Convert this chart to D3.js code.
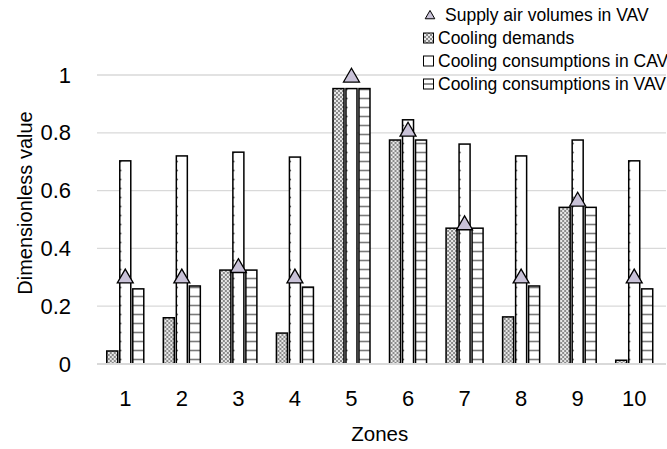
<!DOCTYPE html>
<html>
<head>
<meta charset="utf-8">
<script src="https://cdn.jsdelivr.net/npm/d3@7"></script>
<style>
  html, body { margin: 0; padding: 0; background: #fff; }
  svg { display: block; font-family: "Liberation Sans", Arial, sans-serif; }
</style>
</head>
<body>
<svg id="chart" width="667" height="449"></svg>
<script>
// Zone categories and dimensionless series values
const zones = ["1", "2", "3", "4", "5", "6", "7", "8", "9", "10"];
const coolingDemands = [0.045, 0.16, 0.325, 0.107, 0.953, 0.775, 0.47, 0.163, 0.542, 0.013];
const coolingCAV     = [0.703, 0.72, 0.733, 0.716, 0.953, 0.845, 0.761, 0.72, 0.775, 0.703];
const coolingVAV     = [0.26, 0.27, 0.325, 0.266, 0.953, 0.775, 0.47, 0.27, 0.542, 0.26];
const supplyAirVAV   = [0.30, 0.30, 0.336, 0.30, 0.995, 0.808, 0.484, 0.30, 0.566, 0.30];
const yTicks = [0, 0.2, 0.4, 0.6, 0.8, 1];
const seriesNames = ["Cooling demands", "Cooling consumptions in CAV", "Cooling consumptions in VAV"];
const legendLabels = ["Supply air volumes in VAV", "Cooling demands", "Cooling consumptions in CAV", "Cooling consumptions in VAV"];

const svg = d3.select("#chart");
const plotLeft = 97, plotRight = 662.5, plotTop = 75, plotBottom = 364;

const x0 = d3.scaleBand().domain(zones).range([plotLeft, plotRight])
  .paddingInner(0.31).paddingOuter(0.155);
const x1 = d3.scaleBand().domain(seriesNames).range([0, x0.bandwidth()]);
const y = d3.scaleLinear().domain([0, 1]).range([plotBottom, plotTop]);

// Fill patterns
const defs = svg.append("defs");
const capLeft = x0(zones[0]) + x1(seriesNames[1]);

const pDem = defs.append("pattern").attr("id", "pDem")
  .attr("patternUnits", "userSpaceOnUse").attr("width", 4).attr("height", 4);
pDem.append("rect").attr("width", 4).attr("height", 4).attr("fill", "#e8e8e8");
pDem.append("rect").attr("width", 2).attr("height", 2).attr("fill", "#8a8a8a");
pDem.append("rect").attr("x", 2).attr("y", 2).attr("width", 2).attr("height", 2).attr("fill", "#8a8a8a");

const pCav = defs.append("pattern").attr("id", "pCav")
  .attr("patternUnits", "userSpaceOnUse").attr("width", x0.step()).attr("height", 9)
  .attr("patternTransform", `translate(${capLeft},${plotBottom})`);
pCav.append("rect").attr("width", x0.step()).attr("height", 9).attr("fill", "#fff");
pCav.append("line").attr("x1", 5).attr("x2", 10).attr("y1", 4.5).attr("y2", 4.5)
  .attr("stroke", "#5e5e5e").attr("stroke-width", 1.7);

const pVav = defs.append("pattern").attr("id", "pVav")
  .attr("patternUnits", "userSpaceOnUse").attr("width", 8).attr("height", 9)
  .attr("patternTransform", `translate(0,${plotBottom})`);
pVav.append("rect").attr("width", 8).attr("height", 9).attr("fill", "#fff");
pVav.append("line").attr("x1", 0).attr("x2", 8).attr("y1", 4.5).attr("y2", 4.5)
  .attr("stroke", "#7a7a7a").attr("stroke-width", 1.6);

const fills = { "Cooling demands": "url(#pDem)", "Cooling consumptions in CAV": "url(#pCav)", "Cooling consumptions in VAV": "url(#pVav)" };

// Gridlines
svg.append("g").selectAll("line").data(yTicks.filter(d => d > 0)).join("line")
  .attr("x1", plotLeft).attr("x2", 666)
  .attr("y1", d => y(d)).attr("y2", d => y(d))
  .attr("stroke", "#d9d9d9").attr("stroke-width", 1.3);

// Y axis labels
const yAxis = d3.axisLeft(y).tickValues(yTicks).tickFormat(d3.format("~g")).tickSize(0).tickPadding(0);
const yg = svg.append("g").attr("transform", `translate(71,0)`).call(yAxis);
yg.select(".domain").remove();
yg.selectAll("text").attr("font-size", 22).attr("fill", "#000")
  .attr("font-family", "Liberation Sans, Arial, sans-serif");

// Bars
const rows = zones.map((z, i) => ({
  zone: z,
  values: [coolingDemands[i], coolingCAV[i], coolingVAV[i]]
}));
const groups = svg.append("g").selectAll("g").data(rows).join("g")
  .attr("transform", d => `translate(${x0(d.zone)},0)`);
groups.selectAll("rect")
  .data(d => seriesNames.map((s, k) => ({ s, v: d.values[k] })))
  .join("rect")
  .attr("x", d => x1(d.s) + 1)
  .attr("width", x1.bandwidth() - 2)
  .attr("y", d => y(d.v))
  .attr("height", d => y(0) - y(d.v))
  .attr("fill", d => fills[d.s])
  .attr("stroke", "#000").attr("stroke-width", 1.5);

// Baseline
svg.append("line").attr("x1", plotLeft).attr("x2", 666).attr("y1", y(0)).attr("y2", y(0))
  .attr("stroke", "#d9d9d9").attr("stroke-width", 2);

// Supply air volume markers
const tri = d3.symbol().type(d3.symbolTriangle).size(110);
svg.append("g").selectAll("path").data(zones).join("path")
  .attr("d", tri)
  .attr("transform", (z, i) => `translate(${x0(z) + x1(seriesNames[1]) + x1.bandwidth() / 2},${y(supplyAirVAV[i]) + 1})`)
  .attr("fill", "#c9c2d8").attr("stroke", "#000").attr("stroke-width", 1.3);

// X axis labels
const xAxis = d3.axisBottom(x0).tickSize(0).tickPadding(0);
const xg = svg.append("g").attr("transform", `translate(0,${plotBottom})`).call(xAxis);
xg.select(".domain").remove();
xg.selectAll("text").attr("font-size", 22).attr("fill", "#000")
  .attr("font-family", "Liberation Sans, Arial, sans-serif")
  .attr("dy", null).attr("y", 42);

// Axis titles
svg.append("text").attr("x", (plotLeft + plotRight) / 2).attr("y", 441)
  .attr("text-anchor", "middle").attr("font-size", 20.5).text("Zones");
svg.append("text").attr("transform", "translate(32,203) rotate(-90)")
  .attr("text-anchor", "middle").attr("font-size", 20).text("Dimensionless value");

// Legend
const lg = svg.append("g");
const legendY = [21, 44, 67, 90];
lg.append("path").attr("d", d3.symbol().type(d3.symbolTriangle).size(40))
  .attr("transform", `translate(430,${legendY[0] - 5})`)
  .attr("fill", "#c9c2d8").attr("stroke", "#000").attr("stroke-width", 1);
["url(#pDem)", "#fff", "url(#pVav)"].forEach((f, k) => {
  const yy = legendY[k + 1] - 11;
  lg.append("rect").attr("x", 423.5).attr("y", yy).attr("width", 10).attr("height", 10)
    .attr("fill", f === "url(#pVav)" ? "#fff" : f).attr("stroke", "#000").attr("stroke-width", 1);
  if (f === "url(#pVav)") {
    lg.append("line").attr("x1", 424).attr("x2", 433).attr("y1", yy + 5).attr("y2", yy + 5)
      .attr("stroke", "#6e6e6e").attr("stroke-width", 1.5);
  }
});
lg.selectAll("text").data(legendLabels).join("text")
  .attr("x", (d, i) => i === 0 ? 445 : 438)
  .attr("y", (d, i) => legendY[i])
  .attr("font-size", 17.5).attr("fill", "#000")
  .text(d => d);
</script>
</body>
</html>
